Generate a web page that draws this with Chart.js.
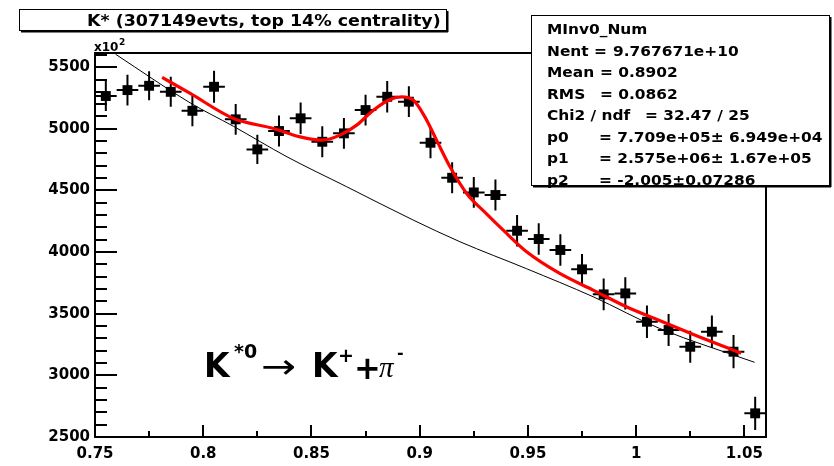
<!DOCTYPE html>
<html>
<head>
<meta charset="utf-8">
<script src="https://cdn.jsdelivr.net/npm/chart.js@4.4.0/dist/chart.umd.min.js"></script>
<style>
  html, body { margin: 0; padding: 0; background: #fff; }
  #wrap { width: 834px; height: 466px; position: relative; }
</style>
</head>
<body>
<div id="wrap"><canvas id="c" width="834" height="466"></canvas></div>
<script>
// K*0 invariant-mass spectrum (counts in units of 10^2), bin centres in GeV/c^2
const massBins = [0.755, 0.765, 0.775, 0.785, 0.795, 0.805, 0.815, 0.825, 0.835, 0.845,
                  0.855, 0.865, 0.875, 0.885, 0.895, 0.905, 0.915, 0.925, 0.935, 0.945,
                  0.955, 0.965, 0.975, 0.985, 0.995, 1.005, 1.015, 1.025, 1.035, 1.045, 1.055];
const counts = [5266, 5314, 5349, 5300, 5146, 5341, 5077, 4833, 4982, 5085,
                4895, 4963, 5152, 5260, 5220, 4887, 4603, 4484, 4463, 4173,
                4106, 4017, 3860, 3657, 3665, 3435, 3368, 3232, 3354, 3192, 2692];
const countErrors = [122, 125, 118, 122, 125, 130, 125, 119, 125, 128,
                     125, 125, 125, 128, 125, 125, 125, 125, 125, 128,
                     128, 128, 125, 128, 130, 132, 130, 130, 132, 135, 135];
const binHalfWidth = 0.005;

// fitted Breit-Wigner + background (red)
const fitMass = [0.781, 0.794, 0.814, 0.8325, 0.8448, 0.8548, 0.8632, 0.8709, 0.8786, 0.8863,
                 0.8917, 0.8970, 0.9024, 0.9078, 0.9140, 0.9217, 0.9309, 0.9386, 0.9494, 0.9647,
                 0.9801, 0.9955, 1.0108, 1.0293, 1.0485];
const fitValues = [5417, 5287, 5084, 5003, 4935, 4908, 4949, 5030, 5151, 5238,
                   5259, 5233, 5097, 4908, 4692, 4476, 4310, 4178, 4003, 3827,
                   3692, 3557, 3445, 3312, 3179];

// background component (black)
const bgMass = [0.7595, 0.794, 0.814, 0.8387, 0.8663, 0.897, 0.9186, 0.9494, 0.9801, 1.0108, 1.0547];
const bgValues = [5605, 5210, 5020, 4773, 4530, 4260, 4084, 3865, 3638, 3381, 3106];

// axis ticks
const xTicks = [0.75, 0.8, 0.85, 0.9, 0.95, 1, 1.05];
const xTickLabels = ['0.75', '0.8', '0.85', '0.9', '0.95', '1', '1.05'];
const yTicks = [2500, 3000, 3500, 4000, 4500, 5000, 5500];
const yTickLabels = ['2500', '3000', '3500', '4000', '4500', '5000', '5500'];

// texts
const histTitle = 'K* (307149evts, top 14% centrality)';
const statsName = 'MInv0_Num';
const statsLabels = ['Nent', 'Mean', 'RMS', 'Chi2 / ndf', 'p0', 'p1', 'p2'];
const statsValues = ['9.767671e+10', '0.8902', '0.0862', '32.47 / 25',
                     '7.709e+05\u00b1 6.949e+04', '2.575e+06\u00b1 1.67e+05', '-2.005\u00b10.07286'];

const FONT = '"DejaVu Sans", sans-serif';

function drawText(ctx, s, x, y, font, sx, align) {
  ctx.save();
  ctx.font = font;
  ctx.textAlign = align || 'left';
  ctx.textBaseline = 'alphabetic';
  ctx.fillStyle = '#000';
  ctx.translate(x, y);
  ctx.scale(sx || 1, 1);
  ctx.fillText(s, 0, 0);
  ctx.restore();
}

function shadowBox(ctx, x, y, w, h) {
  ctx.save();
  ctx.fillStyle = '#fff';
  ctx.fillRect(x, y, w, h);
  ctx.strokeStyle = '#000';
  ctx.lineWidth = 1;
  ctx.strokeRect(x + 0.5, y + 0.5, w, h);
  ctx.fillStyle = '#000';
  ctx.fillRect(x + 2, y + h, w, 2.5);
  ctx.fillRect(x + w, y + 2, 2.5, h);
  ctx.restore();
}

const errorBars = {
  id: 'errorBars',
  beforeDatasetsDraw(chart) {
    const { ctx, scales: { x, y } } = chart;
    ctx.save();
    ctx.strokeStyle = '#000';
    ctx.lineWidth = 2;
    massBins.forEach((m, i) => {
      const px = x.getPixelForValue(m);
      const py = y.getPixelForValue(counts[i]);
      const top = y.getPixelForValue(counts[i] + countErrors[i]);
      const bot = y.getPixelForValue(counts[i] - countErrors[i]);
      const l = x.getPixelForValue(m - binHalfWidth);
      const r = x.getPixelForValue(m + binHalfWidth);
      ctx.beginPath();
      ctx.moveTo(px, top); ctx.lineTo(px, bot);
      ctx.moveTo(l, py); ctx.lineTo(r, py);
      ctx.stroke();
    });
    ctx.restore();
  }
};

const frameAndTicks = {
  id: 'frameAndTicks',
  afterDatasetsDraw(chart) {
    const { ctx, chartArea: a, scales: { x, y } } = chart;
    ctx.save();
    ctx.strokeStyle = '#000';
    ctx.lineWidth = 2;
    // y ticks: major every 500, minor every 100, pointing inward
    for (let v = 2500; v <= y.max; v += 100) {
      const p = Math.round(y.getPixelForValue(v));
      const major = yTicks.includes(v);
      ctx.beginPath();
      ctx.moveTo(a.left, p);
      ctx.lineTo(a.left + (major ? 22 : 12), p);
      ctx.stroke();
    }
    // x ticks: major every 0.05, minor every 0.025
    for (let k = 0; 0.75 + k * 0.025 <= x.max + 1e-9; k++) {
      const p = Math.round(x.getPixelForValue(0.75 + k * 0.025));
      ctx.beginPath();
      ctx.moveTo(p, a.bottom);
      ctx.lineTo(p, a.bottom - (k % 2 === 0 ? 12 : 6));
      ctx.stroke();
    }
    ctx.strokeRect(a.left, a.top, a.right - a.left, a.bottom - a.top);
    ctx.restore();
  },
  afterDraw(chart) {
    const { ctx, chartArea: a } = chart;
    // exponent marker of the y axis
    drawText(ctx, 'x10', a.left - 1, a.top - 2, 'bold 12px ' + FONT, 1.0);
    drawText(ctx, '2', a.left + 24, a.top - 8, 'bold 9px ' + FONT, 1.0);

    // histogram title
    shadowBox(ctx, 19, 9, 427, 21);
    drawText(ctx, histTitle, 87, 26, 'bold 16px ' + FONT, 1.09);

    // statistics box
    shadowBox(ctx, 531, 15, 298, 170);
    const sf = 'bold 14px ' + FONT;
    const base = 34, step = 21.55;
    const row = r => base + r * step;
    drawText(ctx, statsName, 547, row(0), sf, 1.1);
    drawText(ctx, statsLabels[0] + ' =', 547, row(1), sf, 1.1);
    drawText(ctx, statsValues[0], 613, row(1), sf, 1.1);
    drawText(ctx, statsLabels[1], 547, row(2), sf, 1.1);
    drawText(ctx, '= ' + statsValues[1], 600, row(2), sf, 1.1);
    drawText(ctx, statsLabels[2], 547, row(3), sf, 1.1);
    drawText(ctx, '= ' + statsValues[2], 600, row(3), sf, 1.1);
    drawText(ctx, statsLabels[3], 547, row(4), sf, 1.1);
    drawText(ctx, '= ' + statsValues[3], 645, row(4), sf, 1.1);
    for (let i = 4; i < 7; i++) {
      drawText(ctx, statsLabels[i], 547, row(i + 1), sf, 1.1);
      drawText(ctx, '= ' + statsValues[i], 599, row(i + 1), sf, 1.1);
    }

    // decay channel
    drawText(ctx, 'K', 204, 377, 'bold 33px ' + FONT, 1.0);
    drawText(ctx, '*0', 234, 358, 'bold 19px ' + FONT, 1.0);
    drawText(ctx, '\u2192', 261, 378, '34px ' + FONT, 1.23);
    drawText(ctx, 'K', 312, 377, 'bold 33px ' + FONT, 1.0);
    drawText(ctx, '+', 338, 362, 'bold 19px ' + FONT, 1.0);
    drawText(ctx, '+', 354, 379, 'bold 32px ' + FONT, 1.0);
    drawText(ctx, '\u03c0', 379, 377, 'italic 29px "Liberation Serif", serif', 1.0);
    drawText(ctx, '-', 397, 358, 'bold 16px ' + FONT, 1.0);
  }
};

const tickFont = { family: FONT, weight: 'bold', size: 15 };

new Chart(document.getElementById('c'), {
  type: 'scatter',
  data: {
    datasets: [
      {
        type: 'line',
        data: fitMass.map((m, i) => ({ x: m, y: fitValues[i] })),
        borderColor: '#ff0000',
        borderWidth: 3.2,
        pointRadius: 0,
        cubicInterpolationMode: 'monotone',
        fill: false,
        order: 1
      },
      {
        type: 'line',
        data: bgMass.map((m, i) => ({ x: m, y: bgValues[i] })),
        borderColor: '#000',
        borderWidth: 1,
        pointRadius: 0,
        cubicInterpolationMode: 'monotone',
        fill: false,
        order: 2
      },
      {
        data: massBins.map((m, i) => ({ x: m, y: counts[i] })),
        pointStyle: 'rect',
        pointRadius: 7,
        backgroundColor: '#000',
        borderColor: '#000',
        borderWidth: 0,
        order: 3
      }
    ]
  },
  options: {
    responsive: false,
    animation: false,
    devicePixelRatio: 1,
    layout: { padding: { left: 0, right: 68, top: 53, bottom: 0 } },
    plugins: { legend: { display: false }, tooltip: { enabled: false } },
    scales: {
      x: {
        type: 'linear',
        min: 0.75,
        max: 1.06,
        afterFit(s) { s.height = 29; },
        afterBuildTicks(s) { s.ticks = xTicks.map(v => ({ value: v })); },
        grid: { display: false, drawTicks: false },
        border: { display: false },
        ticks: {
          font: tickFont, color: '#000', padding: 8, maxRotation: 0, autoSkip: false,
          callback: (v, i) => xTickLabels[i]
        }
      },
      y: {
        type: 'linear',
        min: 2500,
        max: 5615,
        afterFit(s) { s.width = 95; },
        afterBuildTicks(s) { s.ticks = yTicks.map(v => ({ value: v })); },
        grid: { display: false, drawTicks: false },
        border: { display: false },
        ticks: {
          font: tickFont, color: '#000', padding: 5, autoSkip: false,
          callback: (v, i) => yTickLabels[i]
        }
      }
    }
  },
  plugins: [errorBars, frameAndTicks]
});
</script>
</body>
</html>
